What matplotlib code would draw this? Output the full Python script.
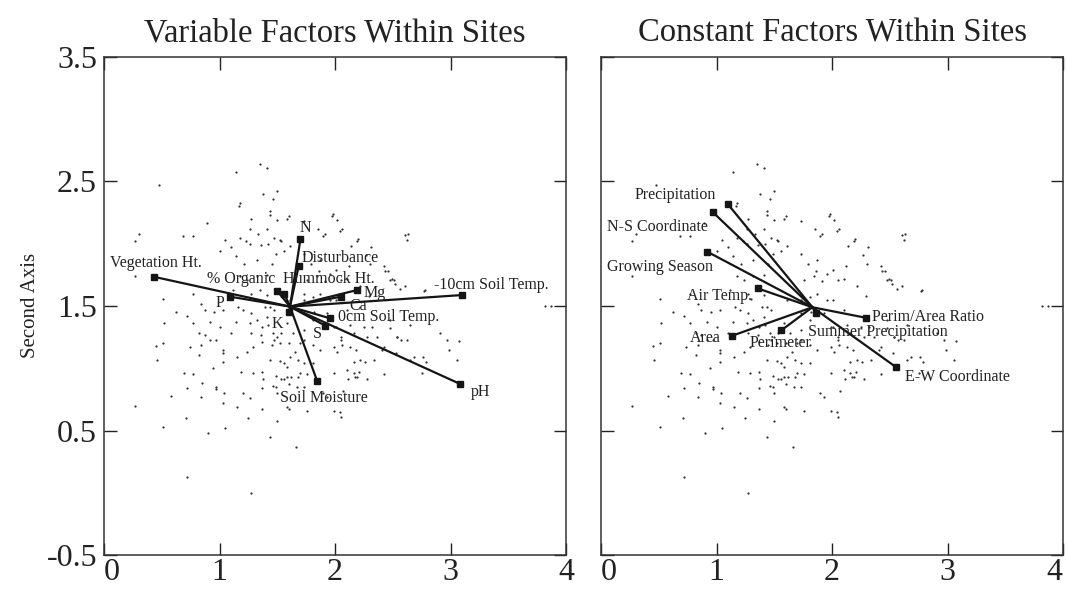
import numpy as np
import matplotlib
matplotlib.use("Agg")
import matplotlib.pyplot as plt
from matplotlib.transforms import ScaledTranslation

plt.rcParams['font.family'] = ['Liberation Serif', 'DejaVu Serif']
plt.rcParams['axes.unicode_minus'] = False

# site scores (same cloud of points in both panels)
SITES = [
	(1.35, 2.64), (1.41, 2.61), (1.14, 2.58), (0.48, 2.47), (1.50, 2.42), (1.38, 2.40),
	(1.46, 2.36), (1.18, 2.33), (1.17, 2.30), (1.44, 2.26), (1.60, 2.22), (1.50, 2.19),
	(1.27, 2.20), (0.89, 2.17), (1.41, 2.12), (1.26, 2.12), (1.33, 2.08), (0.30, 2.08),
	(0.27, 2.02), (0.68, 2.06), (0.77, 2.06), (1.18, 2.05), (1.23, 2.02), (1.47, 2.05),
	(1.53, 2.02), (1.85, 2.12), (1.91, 2.08), (1.98, 2.24), (1.05, 2.03), (1.10, 1.97),
	(1.14, 1.90), (1.00, 1.94), (1.36, 1.99), (1.42, 2.00), (1.49, 1.92), (1.56, 1.94),
	(1.32, 1.87), (1.45, 1.84), (1.21, 1.84), (0.27, 1.74), (0.51, 1.56), (0.77, 1.60),
	(0.84, 1.52), (0.87, 1.47), (0.62, 1.45), (0.72, 1.42), (0.95, 1.45), (1.16, 1.49),
	(1.30, 1.56), (1.39, 1.49), (1.73, 1.55), (1.82, 1.45), (1.91, 1.70), (1.79, 1.84),
	(1.86, 1.78),
	(2.02, 2.19), (2.06, 2.12), (2.20, 2.04), (2.14, 1.98), (2.31, 1.97), (2.63, 2.08),
	(2.12, 1.82), (2.46, 1.78), (2.49, 1.72), (2.52, 1.68), (2.61, 1.66), (2.78, 1.63),
	(3.82, 1.50), (3.87, 1.50), (2.29, 1.58),
	(0.52, 1.36), (0.77, 1.36), (0.92, 1.37), (1.00, 1.33), (1.14, 1.37), (1.26, 1.36),
	(1.37, 1.33), (1.42, 1.35), (0.82, 1.28), (0.87, 1.27), (1.10, 1.28), (1.27, 1.28),
	(1.36, 1.27), (1.46, 1.28), (1.50, 1.25), (0.45, 1.18), (0.51, 1.20), (0.74, 1.17),
	(0.84, 1.19), (0.97, 1.23), (1.03, 1.15), (1.24, 1.13), (1.37, 1.21), (1.45, 1.19),
	(1.52, 1.20), (1.60, 1.20), (1.65, 1.13), (0.46, 1.07), (0.82, 1.11), (1.03, 1.05),
	(0.94, 1.00), (1.52, 1.06), (1.56, 1.04), (1.68, 1.07), (1.73, 1.04), (0.69, 0.96),
	(0.77, 0.95), (1.19, 0.97), (1.29, 0.96), (1.37, 0.97), (1.49, 0.94), (1.56, 0.91),
	(1.62, 0.93), (1.68, 0.93), (1.76, 0.95), (0.85, 0.88), (0.72, 0.84), (0.97, 0.83),
	(1.04, 0.80), (0.84, 0.77), (1.46, 0.86), (1.37, 0.84), (1.60, 0.87), (0.58, 0.78),
	(1.26, 0.76), (1.03, 0.72), (0.27, 0.70), (1.15, 0.69), (1.37, 0.67), (1.60, 0.67),
	(0.71, 0.60), (1.25, 0.60), (1.50, 0.58), (0.51, 0.53), (0.90, 0.48), (1.05, 0.52),
	(1.44, 0.45), (1.66, 0.37), (0.72, 0.13), (1.27, 0.00),
	(2.13, 1.35), (2.25, 1.33), (2.32, 1.33), (2.48, 1.32), (2.65, 1.35), (2.05, 1.23),
	(2.06, 1.19), (2.02, 1.13), (2.18, 1.15), (2.41, 1.15), (2.54, 1.25), (2.57, 1.23),
	(2.91, 1.28), (3.07, 1.22), (2.99, 1.15), (2.16, 1.05), (2.26, 1.05), (2.68, 1.09),
	(2.79, 1.05), (2.10, 0.99), (2.21, 0.97), (2.42, 0.95), (2.75, 0.96), (2.11, 0.91),
	(2.17, 0.93), (2.04, 0.65),
	(1.24, 1.71), (1.32, 1.74), (1.41, 1.75), (1.76, 1.71), (1.84, 1.74), (1.96, 1.76),
	(2.05, 1.71), (1.27, 1.60), (1.35, 1.63), (1.41, 1.59), (1.73, 1.60), (1.81, 1.57),
	(1.87, 1.60), (1.96, 1.55), (1.27, 1.44), (1.32, 1.39), (1.41, 1.41), (1.47, 1.47),
	(1.73, 1.44), (1.81, 1.39), (1.93, 1.44), (1.73, 1.31), (1.64, 1.28), (1.58, 1.36),
	(1.53, 1.28), (1.99, 1.33), (2.05, 1.25), (1.47, 1.23), (1.70, 1.20), (1.81, 1.19),
	(1.99, 1.17), (2.13, 1.17), (2.28, 1.25), (2.48, 1.39), (2.54, 1.25), (2.62, 1.23),
	(2.42, 1.82), (2.51, 1.71), (2.62, 2.03), (2.97, 1.23), (3.06, 1.07), (2.34, 1.07),
	(2.22, 1.07), (2.16, 0.96), (2.28, 0.91), (1.58, 1.01), (1.53, 0.91), (1.67, 0.85),
	(1.70, 0.96), (1.50, 0.80), (1.58, 0.69), (1.76, 0.66), (1.99, 0.66), (2.05, 0.61),
	(1.93, 0.77),
	(1.44, 2.23), (1.58, 2.20), (1.73, 2.18), (1.97, 2.22), (2.04, 2.10), (1.90, 2.06),
	(2.19, 2.02), (2.61, 2.07), (2.27, 1.91), (2.30, 1.84), (2.43, 1.78), (2.48, 1.71),
	(2.56, 1.64), (2.77, 1.62), (2.22, 1.66), (2.10, 1.72), (2.01, 1.79), (1.87, 1.87),
	(1.73, 1.92), (1.61, 1.98), (1.52, 2.03), (1.26, 2.00), (1.18, 1.74), (1.12, 1.63),
	(1.03, 1.47), (1.20, 1.47), (1.44, 1.49), (1.61, 1.55), (2.01, 1.55), (2.10, 1.47),
	(2.01, 1.33), (2.16, 1.28), (2.36, 1.25), (2.42, 1.17), (2.53, 1.12), (2.65, 1.07),
	(2.76, 1.09), (1.73, 1.23), (1.87, 1.15), (1.61, 1.09), (1.44, 1.07), (1.29, 1.17),
	(1.15, 1.09), (1.03, 1.12), (1.81, 1.04), (1.99, 0.96), (2.19, 0.93), (1.58, 0.93),
	(1.49, 0.85), (1.38, 0.91), (1.73, 0.85), (1.90, 0.80), (2.07, 0.82), (0.92, 1.23),
	(0.97, 0.85), (1.20, 0.80),
]

# variable factors (left panel)
VAR_ORIGIN = (1.61, 1.495)
VAR_NAMES = ['Vegetation Ht.', 'P', 'N', 'Disturbance', '% Organic', 'Hummock Ht.',
	'Mg', 'Ca', '-10cm Soil Temp.', '0cm Soil Temp.', 'K', 'S', 'Soil Moisture', 'pH']
VAR_X = [0.43, 1.09, 1.70, 1.685, 1.50, 1.56, 2.19, 2.05, 3.10, 1.96, 1.60, 1.915, 1.845, 3.085]
VAR_Y = [1.735, 1.575, 2.035, 1.82, 1.62, 1.60, 1.628, 1.575, 1.588, 1.40, 1.45, 1.342, 0.898, 0.873]

# constant factors (right panel)
CON_ORIGIN = (1.83, 1.49)
CON_NAMES = ['Precipitation', 'N-S Coordinate', 'Growing Season', 'Air Temp.',
	'Perim/Area Ratio', 'Summer Precipitation', 'Area', 'Perimeter', 'E-W Coordinate']
CON_X = [1.10, 0.97, 0.92, 1.355, 2.29, 1.86, 1.135, 1.56, 2.55]
CON_Y = [2.316, 2.252, 1.936, 1.642, 1.406, 1.441, 1.261, 1.304, 1.012]

# where each name is written (x, y, alignment)
VAR_LABEL_POS = {
	'Vegetation Ht.': (0.05, 1.843, 'left'),
	'P': (1.005, 1.521, 'center'),
	'N': (1.742, 2.129, 'center'),
	'Disturbance': (1.714, 1.883, 'left'),
	'% Organic': (0.89, 1.717, 'left'),
	'Hummock Ht.': (1.55, 1.717, 'left'),
	'Mg': (2.248, 1.602, 'left'),
	'Ca': (2.127, 1.50, 'left'),
	'-10cm Soil Temp.': (2.855, 1.669, 'left'),
	'0cm Soil Temp.': (2.023, 1.414, 'left'),
	'K': (1.497, 1.355, 'center'),
	'S': (1.849, 1.275, 'center'),
	'Soil Moisture': (1.526, 0.758, 'left'),
	'pH': (3.173, 0.812, 'left'),
}
CON_LABEL_POS = {
	'Precipitation': (0.295, 2.391, 'left'),
	'N-S Coordinate': (0.055, 2.137, 'left'),
	'Growing Season': (0.05, 1.81, 'left'),
	'Air Temp.': (0.743, 1.58, 'left'),
	'Perim/Area Ratio': (2.347, 1.414, 'left'),
	'Summer Precipitation': (1.789, 1.293, 'left'),
	'Area': (0.766, 1.24, 'left'),
	'Perimeter': (1.287, 1.20, 'left'),
	'E-W Coordinate': (2.636, 0.927, 'left'),
}

X_TICKS = [0, 1, 2, 3, 4]
Y_TICKS = [-0.5, 0.5, 1.5, 2.5, 3.5]


def draw_panel(ax, title, origin, names, xs, ys, label_pos):
	pts = np.array(SITES)
	ax.scatter(pts[:, 0], pts[:, 1], s=2.6, color='#333333', linewidths=0, zorder=1)

	for name, x, y in zip(names, xs, ys):
		ax.plot([origin[0], x], [origin[1], y], color='#151515', lw=1.6, zorder=2)
		ax.plot(x, y, 's', ms=5, color='#151515', zorder=3)
		lx, ly, ha = label_pos[name]
		ax.text(lx, ly, name, fontsize=11.5, color='#222222', ha=ha, va='center', zorder=4)

	ax.set_xlim(0, 4)
	ax.set_ylim(-0.5, 3.5)
	ax.set_xticks(X_TICKS)
	ax.set_yticks(Y_TICKS)
	ax.set_yticklabels(['%g' % v for v in Y_TICKS])
	ax.tick_params(direction='in', top=True, right=True, length=9, width=1,
		labelsize=23, pad=2, colors='#222222')
	ax.tick_params(axis='y', pad=5)
	# first x label sits just right of the corner, as in the original
	ax.get_xticklabels()[0].set_ha('left')
	for sp in ax.spines.values():
		sp.set_linewidth(1.1)
		sp.set_color('#333333')
	ax.set_title(title, fontsize=23.5, pad=11, color='#222222')


def __main__():
	fig = plt.figure(figsize=(10.66, 5.9), dpi=100)
	ax1 = fig.add_axes([0.0976, 0.0593, 0.4334, 0.8441])
	ax2 = fig.add_axes([0.5638, 0.0593, 0.4334, 0.8441])

	draw_panel(ax1, 'Variable Factors Within Sites', VAR_ORIGIN, VAR_NAMES, VAR_X, VAR_Y, VAR_LABEL_POS)
	draw_panel(ax2, 'Constant Factors Within Sites', CON_ORIGIN, CON_NAMES, CON_X, CON_Y, CON_LABEL_POS)

	ax1.set_ylabel('Second Axis', fontsize=15, color='#222222')
	ax1.yaxis.set_label_coords(-0.139, 0.502)
	ax2.tick_params(labelleft=False)

	# keep the last label of the right panel inside the figure
	last = ax2.get_xticklabels()[-1]
	last.set_transform(last.get_transform() + ScaledTranslation(-6 / 72, 0, fig.dpi_scale_trans))

	fig.savefig('out.png', dpi=100)


if(__name__ == '__main__'):
	__main__()
